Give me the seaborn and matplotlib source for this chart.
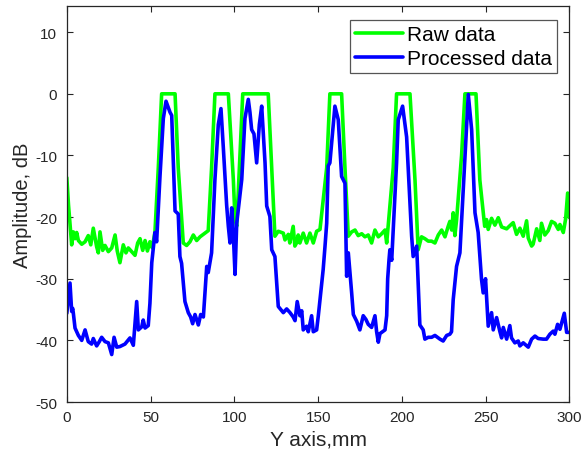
import matplotlib
matplotlib.use("Agg")
import matplotlib.pyplot as plt
import seaborn as sns
import pandas as pd

# ---------------- data ----------------
series_names = ["Raw data", "Processed data"]

raw_x = [0, 1, 2.9, 3.9, 4.9, 5.9, 6.9, 8.9, 10.9, 12.8,
         14.3, 15.8, 17.8, 18.8, 19.8, 21.4, 22.8, 24.8, 26.8, 28.8,
         30.1, 31.7, 33.7, 35.3, 36.7, 38.7, 40.7, 42.3, 43.7, 45.3,
         46.7, 48.1, 49.6, 51.0, 52.6, 54.6, 56.6, 64.6, 66.5, 69.5,
         71.5, 73.5, 75.5, 77.5, 79.5, 84.4, 86.4, 88.4, 96.4, 99.4,
         100.4, 101.4, 105, 120.2, 122.3, 124.2, 126.2, 129.2, 130.2, 132.2,
         133.1, 135.1, 136.1, 137.1, 138.1, 139.1, 141.1, 143.1, 145.1, 147.1,
         149.1, 151.1, 155.1, 157, 164, 166, 168, 170, 172, 173.9,
         176, 177.9, 179.9, 181.9, 183.9, 185.9, 187.9, 189.9, 190.9, 194.8,
         196.8, 204.8, 207.8, 209.7, 211.7, 213.7, 215.7, 217.7, 219.7, 221.7,
         223.7, 225.7, 227.6, 228.6, 229.7, 230.6, 231.6, 232.6, 235.6, 237.6,
         244.2, 246.5, 249.4, 250.5, 251.5, 253.5, 255.5, 257.5, 259.5, 262.5,
         264.4, 266.4, 268.4, 270.4, 272.4, 274.4, 275.4, 277.4, 278.3, 280.4,
         282.3, 283.3, 285.3, 287.3, 289.3, 291.3, 293.3, 294.3, 296.3, 297.7,
         298.9, 300]
raw_y = [-13.6, -18, -24.5, -22.4, -23.5, -22.5, -23.8, -24.4, -24.0, -23.0,
         -24.5, -21.8, -24.8, -25.8, -22.4, -25.4, -24.6, -25.6, -25.0, -22.9,
         -25.5, -27.4, -24.5, -25.8, -25.0, -25.6, -26.2, -24.2, -23.5, -25.4,
         -23.8, -25.5, -24.0, -25.0, -22.4, -12, 0, 0, -12, -24.2,
         -24.6, -24.0, -22.9, -23.8, -23.2, -22.2, -12, 0, 0, -14,
         -20.4, -21.5, 0, 0, -12, -23.1, -22.3, -22.6, -23.7, -22.8,
         -24.2, -21.5, -24.7, -24.2, -22.9, -24.2, -22.6, -24.2, -22.6, -24.2,
         -22.3, -22.0, -12, 0, 0, -12, -23.1, -22.4, -22.1, -23.0,
         -22.7, -23.2, -22.9, -24.2, -22.1, -23.2, -22.7, -22.1, -24.2, -12,
         0, 0, -14, -25.3, -23.2, -23.5, -23.9, -23.9, -24.2, -22.9,
         -22.1, -23.2, -21.5, -20.7, -22.1, -19.3, -23.0, -20.5, -10, 0,
         0, -14, -21.5, -20.4, -22.0, -20.2, -21.3, -20.1, -21.6, -21.9,
         -21.4, -20.9, -22.8, -21.8, -23.1, -20.6, -23.4, -24.7, -24.4, -21.9,
         -23.8, -21.0, -22.9, -22.2, -20.7, -21.0, -22.0, -21.2, -22.5, -20.3,
         -16.1, -20.1]

proc_x = [0, 1.9, 2.9, 3.5, 3.9, 4.9, 6.9, 8.9, 10.9, 12.8,
          14.8, 15.8, 17.8, 19.4, 20.8, 22.8, 24.8, 26.8, 28.2, 29.8,
          31.7, 34.7, 37.7, 39.7, 41.7, 42.7, 44.7, 45.6, 46.7, 48.6,
          49.6, 50.7, 52.6, 53.6, 55.6, 57.6, 59.2, 61.6, 62.6, 64.6,
          66.5, 67.5, 68.5, 70.5, 72.5, 73.9, 75.1, 76.5, 78.5, 79.9,
          81.5, 83.5, 84.4, 86.4, 88.4, 90.4, 92, 93.4, 95.4, 96.4,
          97.4, 98.4, 99.4, 100.4, 101.4, 104.4, 106.3, 108.3, 109.3, 110.3,
          111.7, 113.3, 114.9, 116.3, 118.3, 119.3, 121.2, 122.3, 124.2, 126.2,
          129.2, 131.2, 133.2, 135.1, 136.2, 137.5, 139.1, 140.2, 141.1, 143.1,
          144.1, 146.1, 147.1, 149.1, 150.1, 151.1, 153, 154.1, 155.1, 156,
          157, 160, 162, 164, 166, 167, 168, 169, 170, 171,
          173, 174.9, 176.9, 178.5, 179.9, 181.9, 183.9, 184.9, 185.9, 186.9,
          189.9, 190.9, 191.5, 192.3, 192.8, 193.9, 194.8, 196.8, 197.8, 200.4,
          202.8, 205.8, 206.7, 208.8, 210.7, 212.7, 213.7, 215.7, 217.7, 219.7,
          222.7, 224.6, 226.7, 228.6, 229.6, 230.6, 232.6, 234.6, 236.6, 239.6,
          241.6, 243.6, 245.5, 247.5, 248.5, 249.9, 251.5, 253.5, 254.5, 256.5,
          258.5, 259.5, 260.5, 262.5, 264.4, 265.4, 267.4, 269.4, 270.4, 272.4,
          275.4, 277.4, 279.4, 281.3, 284.3, 286.3, 288.3, 290.3, 291.3, 292.9,
          294.3, 296.9, 298.3, 300]
proc_y = [-35.6, -30.7, -35.3, -34.8, -35.6, -38.0, -39.2, -40.0, -38.3, -40.2,
          -40.6, -39.7, -40.9, -40.2, -39.5, -40.2, -40.4, -42.3, -39.5, -41.1,
          -41.0, -40.6, -39.6, -40.8, -33.7, -38.3, -37.8, -36.7, -38.0, -37.6,
          -34.0, -27.4, -22.5, -24.0, -13.4, -4.0, -1.2, -3.0, -3.5, -19.0,
          -19.5, -26.4, -27.5, -33.7, -35.5, -36.2, -37.3, -35.8, -37.5, -35.8,
          -36.2, -28.0, -29.0, -25.8, -13.9, -5.0, -2.4, -8.7, -18.1, -21.5,
          -24.2, -18.5, -23.0, -29.3, -21.0, -13.9, -4.0, -0.9, -3.0, -5.8,
          -6.5, -11.2, -5.0, -2.0, -11.2, -18.2, -19.9, -25.3, -26.4, -34.5,
          -35.5, -34.9, -35.5, -36.2, -36.8, -33.7, -36.0, -35.2, -38.3, -37.7,
          -38.6, -36.0, -38.6, -38.3, -36.0, -33.4, -28.5, -24.7, -21.0, -11.7,
          -11.2, -2.0, -4.2, -13.4, -14.5, -29.6, -25.8, -29.0, -32.3, -35.8,
          -36.9, -38.3, -36.0, -36.6, -37.4, -37.9, -36.0, -38.6, -40.3, -38.9,
          -38.3, -36.0, -30.0, -26.9, -25.3, -27.0, -22.0, -11.2, -4.2, -2.0,
          -7.0, -23.1, -26.4, -24.7, -37.5, -38.3, -39.8, -39.5, -39.5, -39.2,
          -39.8, -40.1, -39.2, -39.0, -38.6, -33.4, -28.0, -25.8, -15.5, -0.1,
          -5.8, -19.3, -22.5, -30.1, -32.3, -30.0, -37.7, -35.5, -38.3, -36.3,
          -38.6, -39.6, -37.9, -39.8, -37.6, -39.6, -40.4, -40.1, -40.9, -40.4,
          -41.1, -39.8, -39.3, -39.7, -39.8, -39.8, -39.0, -38.5, -39.0, -37.4,
          -38.2, -35.6, -38.7, -38.7]

x_ticks = [0, 50, 100, 150, 200, 250, 300]
y_ticks = [-50, -40, -30, -20, -10, 0, 10]
x_label = "Y axis,mm"
y_label = "Amplitude, dB"

# ---------------- style ----------------
sns.set_theme(style="white")
plt.rcParams["font.family"] = ["Liberation Sans", "DejaVu Sans"]
edge = "#262626"

df = pd.concat([
    pd.DataFrame({"x": raw_x, "y": raw_y, "series": series_names[0]}),
    pd.DataFrame({"x": proc_x, "y": proc_y, "series": series_names[1]}),
], ignore_index=True)

fig = plt.figure(figsize=(5.82, 4.56), dpi=100)
ax = fig.add_axes([0.1148, 0.1162, 0.8637, 0.8678])

sns.lineplot(data=df, x="x", y="y", hue="series", hue_order=series_names,
             palette={series_names[0]: "#00ff00", series_names[1]: "#0000ff"},
             linewidth=2.6, estimator=None, sort=False, ax=ax)

ax.set_xlim(0, 300)
ax.set_ylim(-50, 14.2)
ax.set_xticks(x_ticks)
ax.set_yticks(y_ticks)
ax.set_xticklabels([str(v) for v in x_ticks])
ax.set_yticklabels([str(v) for v in y_ticks])
ax.tick_params(direction="in", length=4, width=0.8, colors=edge,
               labelsize=11, top=True, right=True, bottom=True, left=True)
ax.tick_params(axis="x", pad=6)
ax.tick_params(axis="y", pad=7)
for s in ax.spines.values():
    s.set_color(edge)
    s.set_linewidth(0.9)
    s.set_visible(True)

ax.set_xlabel(x_label, fontsize=15, color=edge, labelpad=4)
ax.set_ylabel(y_label, fontsize=14.5, color=edge, labelpad=2)

leg = ax.legend(loc="upper right", bbox_to_anchor=(0.976, 0.966),
                fontsize=15, frameon=True, fancybox=False, framealpha=1,
                edgecolor="#555555", handlelength=2.3, handletextpad=0.2,
                borderpad=0.25, labelspacing=0.25, borderaxespad=0)
leg.get_frame().set_linewidth(0.9)
for t in leg.get_texts():
    t.set_color("black")

fig.savefig("out.png", dpi=100)
